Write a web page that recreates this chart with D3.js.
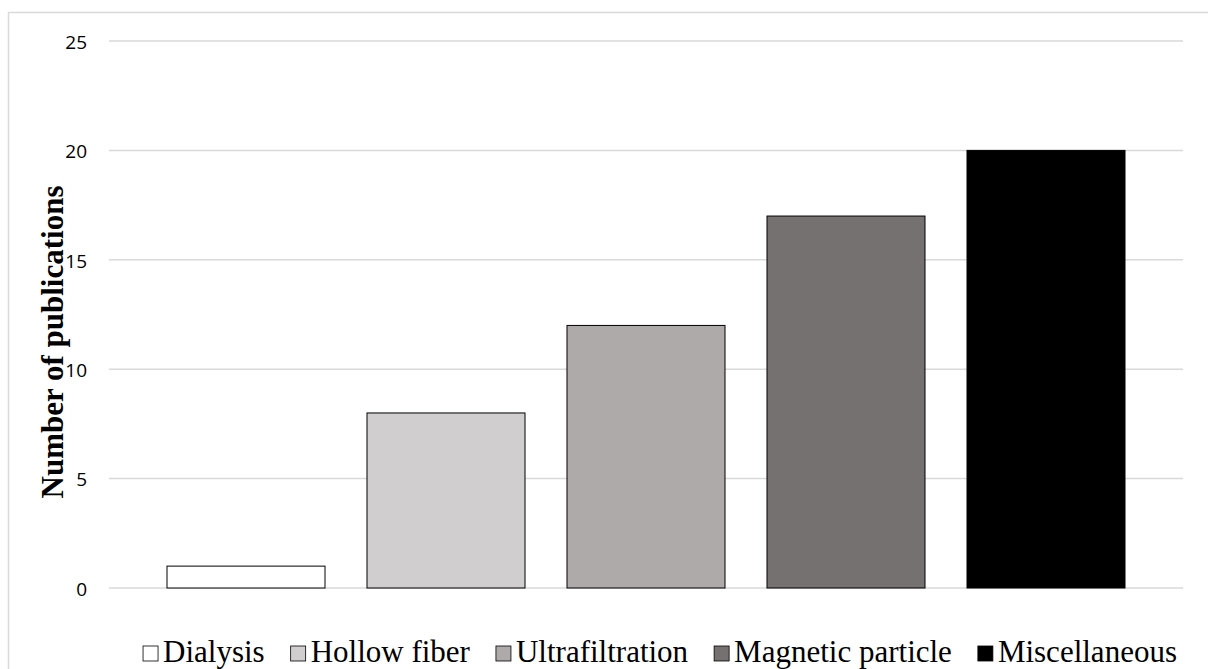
<!DOCTYPE html>
<html>
<head>
<meta charset="utf-8">
<script src="https://cdn.jsdelivr.net/npm/d3@7"></script>
<style>
  html, body { margin: 0; padding: 0; background: #fff; }
  svg { display: block; }
</style>
</head>
<body>
<svg id="chart" width="1208" height="669"></svg>
<script>
const categories = ["Dialysis", "Hollow fiber", "Ultrafiltration", "Magnetic particle", "Miscellaneous"];
const values = [1, 8, 12, 17, 20];
const colors = ["#FFFFFF", "#D0CECE", "#AEAAAA", "#767171", "#000000"];
const yTicks = [0, 5, 10, 15, 20, 25];
const yTitle = "Number of publications";

const svg = d3.select("#chart");
const W = 1208, H = 669;

// outer chart border
svg.append("rect")
  .attr("x", 8.5).attr("y", 12.5)
  .attr("width", W + 20).attr("height", H + 20)
  .attr("fill", "none").attr("stroke", "#D9D9D9").attr("stroke-width", 1.5);

const plot = { left: 109, right: 1183, top: 41, bottom: 588 };

const y = d3.scaleLinear().domain([0, 25]).range([plot.bottom, plot.top]);
const x = d3.scaleBand().domain(categories)
  .range([plot.left, plot.right])
  .paddingInner(0.21).paddingOuter(0.29);

// gridlines
svg.append("g").selectAll("line").data(yTicks).join("line")
  .attr("x1", plot.left).attr("x2", plot.right)
  .attr("y1", d => y(d)).attr("y2", d => y(d))
  .attr("stroke", "#D9D9D9").attr("stroke-width", 1.5);

// y axis labels
const yAxis = d3.axisLeft(y).tickValues(yTicks).tickSize(0).tickPadding(0);
const gy = svg.append("g").attr("transform", `translate(87,0)`).call(yAxis);
gy.select(".domain").remove();
gy.selectAll("text")
  .attr("font-family", "'Open Sans', 'Liberation Sans', sans-serif")
  .attr("font-size", 19).attr("fill", "#000").attr("dy", "0.38em");

// bars
svg.append("g").selectAll("rect").data(categories).join("rect")
  .attr("x", d => x(d)).attr("width", x.bandwidth())
  .attr("y", (d, i) => y(values[i]))
  .attr("height", (d, i) => y(0) - y(values[i]))
  .attr("fill", (d, i) => colors[i])
  .attr("stroke", "#000").attr("stroke-width", 1);

// y title
svg.append("text")
  .attr("transform", `translate(63,342) rotate(-90)`)
  .attr("text-anchor", "middle")
  .attr("font-family", "'Liberation Serif', 'Times New Roman', serif")
  .attr("font-weight", "bold").attr("font-size", 31)
  .attr("fill", "#000")
  .text(yTitle);

// legend
const legend = svg.append("g");
const items = legend.selectAll("g").data(categories).join("g");
items.append("rect")
  .attr("width", 15).attr("height", 15)
  .attr("y", 646)
  .attr("fill", (d, i) => colors[i])
  .attr("stroke", "#000").attr("stroke-width", 0.8);
items.append("text")
  .attr("x", 20).attr("y", 662)
  .attr("font-family", "'Liberation Serif', 'Times New Roman', serif")
  .attr("font-size", 31).attr("fill", "#000")
  .text(d => d);
const gap = 26;
let widths = [];
items.each(function() { widths.push(20 + d3.select(this).select("text").node().getComputedTextLength()); });
const total = d3.sum(widths) + gap * (widths.length - 1);
let cx = 660 - total / 2;
items.attr("transform", (d, i) => { const t = `translate(${cx},0)`; cx += widths[i] + gap; return t; });
</script>
</body>
</html>
